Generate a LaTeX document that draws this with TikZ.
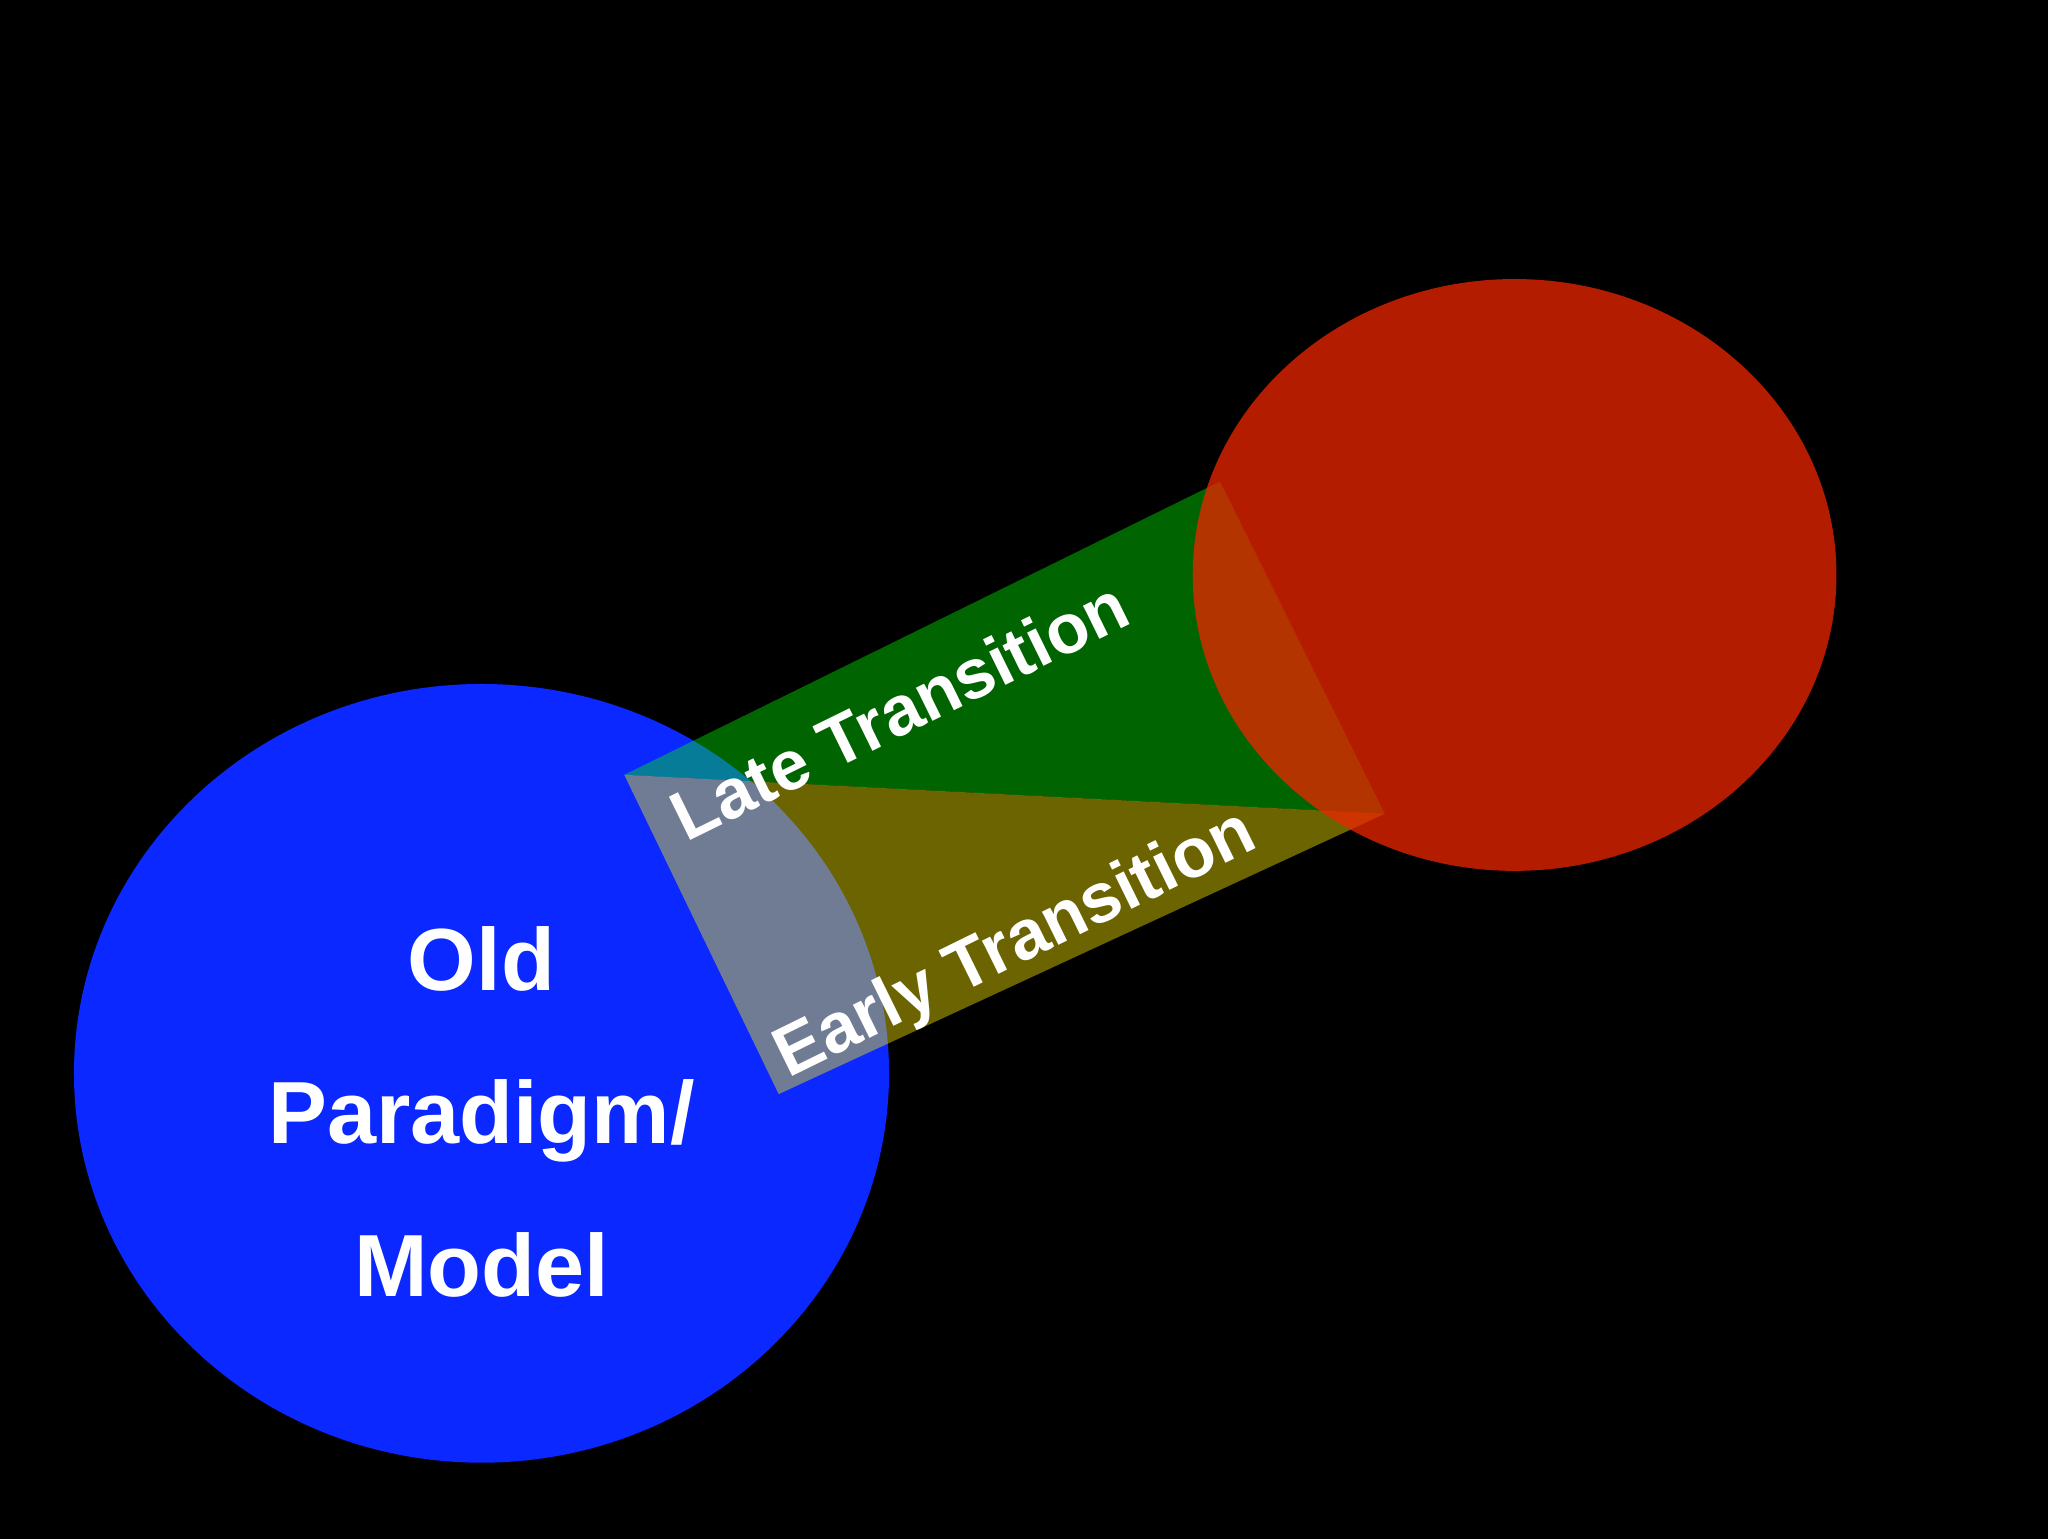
\documentclass[tikz,border=0pt]{standalone}
\usepackage{fontspec}
\setmainfont{Liberation Sans}
\begin{document}
\begin{tikzpicture}[x=1pt,y=-1pt,
  lbl/.style={text=white,font=\bfseries\fontsize{54}{58}\selectfont,inner sep=0pt}]
\fill[black] (-5,-5) rectangle (1573,1181);
\useasboundingbox (0,0) rectangle (1568,1176);
\definecolor{bl}{RGB}{10,40,255}
\definecolor{gr}{RGB}{0,250,0}
\definecolor{ol}{RGB}{255,240,0}
\definecolor{rd}{RGB}{237,37,0}
\fill[bl] (366,822) ellipse [x radius=314,y radius=300];
\coordinate (A) at (476,592);
\coordinate (B) at (935,366);
\coordinate (C) at (1062,622);
\coordinate (D) at (595,838);
\fill[gr,opacity=0.4] (A) -- (B) -- (C) -- cycle;
\fill[ol,opacity=0.42] (A) -- (C) -- (D) -- cycle;
\fill[rd,opacity=0.76] (1162,438) ellipse [x radius=248,y radius=228];
\node[lbl,rotate=26.2] (late) at (688,542) {Late Transition};
\node[lbl,rotate=26.2] (early) at (778,724) {Early Transition};
\node[text=white,font=\bfseries\fontsize{68}{118}\selectfont,align=center] (old) at (366,852) {Old\\Paradigm/\\Model};
\end{tikzpicture}
\end{document}
